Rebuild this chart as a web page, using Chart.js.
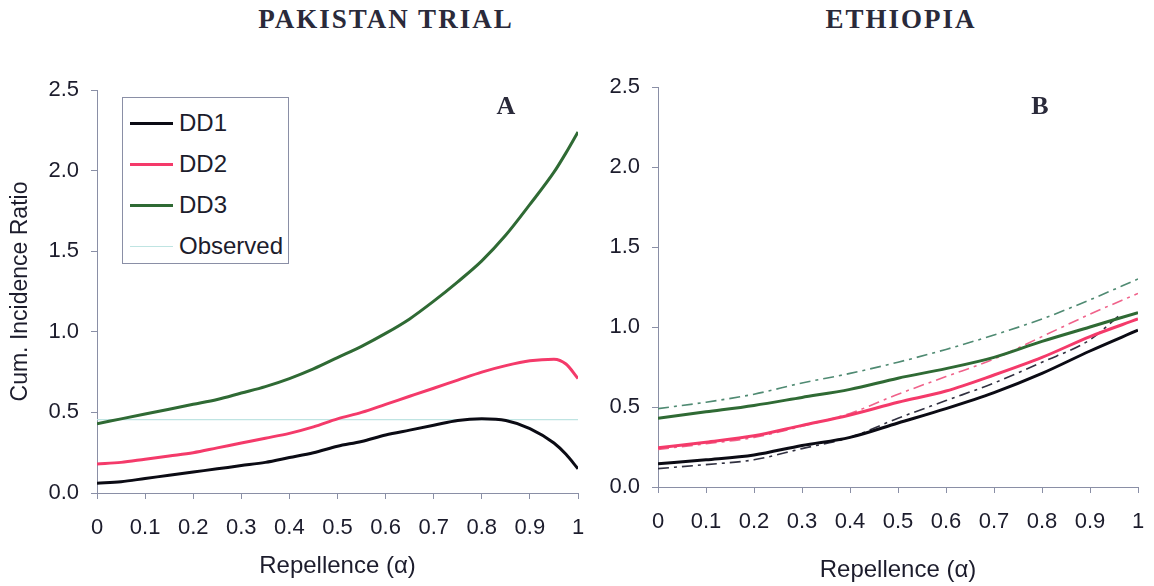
<!DOCTYPE html>
<html>
<head>
<meta charset="utf-8">
<script src="https://cdn.jsdelivr.net/npm/chart.js@4.4.1/dist/chart.umd.min.js"></script>
<style>
  body { margin: 0; background: #fff; width: 1154px; height: 586px; overflow: hidden; position: relative;
         font-family: "Liberation Sans", Arial, sans-serif; color: #1c1c2c; }
  .title { position: absolute; top: 4px; font-family: "Liberation Serif", "Times New Roman", serif; font-weight: bold;
           font-size: 27px; letter-spacing: 2px; color: #2a2a3a; transform: translateX(-50%); white-space: nowrap; }
  .panel { position: absolute; font-family: "Liberation Serif", "Times New Roman", serif; font-weight: bold;
           font-size: 26px; color: #2a2a3a; transform: translate(-50%, -50%); }
  canvas { position: absolute; top: 0; }
  #legend { position: absolute; left: 122px; top: 97px; width: 167px; height: 167px; border: 1px solid #8a8fa6;
            box-sizing: border-box; background: #fff; }
  #legend .item { position: absolute; left: 0; height: 30px; font-size: 24px; line-height: 30px; }
  #legend .swatch { position: absolute; left: 7px; top: 15px; width: 43px; }
  #legend .label { position: absolute; left: 56px; top: 0; white-space: nowrap; }
</style>
</head>
<body>
<div class="title" style="left:386px">PAKISTAN TRIAL</div>
<div class="title" style="left:901px">ETHIOPIA</div>
<canvas id="chart-a" width="600" height="586" style="left:0"></canvas>
<canvas id="chart-b" width="564" height="586" style="left:590px"></canvas>
<div class="panel" style="left:506px; top:106px">A</div>
<div class="panel" style="left:1040px; top:106px">B</div>
<div id="legend"></div>
<script>
// Pakistan trial (panel A)
const pakAlpha = [0, 0.05, 0.1, 0.15, 0.2, 0.25, 0.3, 0.35, 0.4, 0.45, 0.5, 0.55, 0.6, 0.65, 0.7, 0.75, 0.8, 0.85, 0.9, 0.95, 0.975, 1];
const pakDD1 = [0.06, 0.07, 0.09, 0.11, 0.13, 0.15, 0.17, 0.19, 0.22, 0.25, 0.29, 0.32, 0.36, 0.39, 0.42, 0.45, 0.46, 0.45, 0.40, 0.31, 0.24, 0.15];
const pakDD2 = [0.18, 0.19, 0.21, 0.23, 0.25, 0.28, 0.31, 0.34, 0.37, 0.41, 0.46, 0.50, 0.55, 0.60, 0.65, 0.70, 0.75, 0.79, 0.82, 0.83, 0.80, 0.71];
const pakDD3 = [0.43, 0.46, 0.49, 0.52, 0.55, 0.58, 0.62, 0.66, 0.71, 0.77, 0.84, 0.91, 0.99, 1.08, 1.19, 1.31, 1.44, 1.60, 1.79, 1.99, 2.11, 2.24];
const pakObserved = 0.455;

// Ethiopia (panel B)
const ethAlpha = [0, 0.1, 0.2, 0.3, 0.4, 0.5, 0.6, 0.7, 0.8, 0.9, 1];
const ethDD1 = [0.145, 0.17, 0.20, 0.26, 0.31, 0.40, 0.49, 0.59, 0.71, 0.85, 0.98];
const ethDD2 = [0.245, 0.28, 0.32, 0.385, 0.45, 0.53, 0.60, 0.70, 0.81, 0.94, 1.05];
const ethDD3 = [0.43, 0.47, 0.51, 0.56, 0.61, 0.68, 0.74, 0.81, 0.91, 1.00, 1.09];
const ethDD1AltAlpha = [0, 0.1, 0.2, 0.3, 0.4, 0.5, 0.6, 0.7, 0.8, 0.9, 0.96];
const ethDD1Alt = [0.115, 0.14, 0.17, 0.24, 0.31, 0.43, 0.54, 0.65, 0.78, 0.92, 1.07];
const ethDD2Alt = [0.235, 0.27, 0.31, 0.38, 0.46, 0.58, 0.69, 0.80, 0.94, 1.08, 1.21];
const ethDD3Alt = [0.49, 0.53, 0.58, 0.65, 0.71, 0.78, 0.86, 0.95, 1.05, 1.17, 1.30];

const seriesNames = ["DD1", "DD2", "DD3", "Observed"];
const colors = { DD1: "#0b0b14", DD2: "#f43a6a", DD3: "#2f6a34", Observed: "#bfe4e2" };
const altColors = { DD1: "#303040", DD2: "#f0628a", DD3: "#4f8a72" };
const axisColor = "#8a8fa6";
const textColor = "#1c1c2c";
const dashDot = [11, 5, 3, 5];

function pts(xs, ys) {
  return ys.map((y, i) => ({ x: xs[i], y }));
}

function line(label, data, color, width, dash) {
  return {
    label, data, borderColor: color, borderWidth: width, borderDash: dash || [],
    pointRadius: 0, fill: false, cubicInterpolationMode: "monotone",
  };
}

function makeOptions(yWidth, xHeight, pad, showYTitle, xTitlePad) {
  return {
    responsive: false,
    animation: false,
    layout: { padding: pad },
    plugins: { legend: { display: false }, tooltip: { enabled: false } },
    scales: {
      x: {
        type: "linear", min: 0, max: 1,
        afterFit: (s) => { s.height = xHeight; s.paddingLeft = 0; s.paddingRight = 0; },
        grid: { drawOnChartArea: false, color: axisColor, tickLength: 6 },
        border: { color: axisColor, width: 1 },
        ticks: {
          stepSize: 0.1, padding: 16, color: textColor, maxRotation: 0,
          font: { family: "Liberation Sans", size: 22 },
          callback: (v) => (Math.abs(v) < 1e-9 ? "0" : Math.abs(v - 1) < 1e-9 ? "1" : v.toFixed(1)),
        },
        title: {
          display: true, text: "Repellence (α)", color: textColor,
          font: { family: "Liberation Sans", size: 24 }, padding: { top: 0, bottom: xTitlePad },
        },
      },
      y: {
        min: 0, max: 2.5,
        afterFit: (s) => { s.width = yWidth; },
        grid: { drawOnChartArea: false, color: axisColor, tickLength: 6 },
        border: { color: axisColor, width: 1 },
        ticks: {
          stepSize: 0.5, padding: 12, color: textColor,
          font: { family: "Liberation Sans", size: 22 },
          callback: (v) => v.toFixed(1),
        },
        title: {
          display: showYTitle, text: "Cum. Incidence Ratio", color: textColor,
          font: { family: "Liberation Sans", size: 23 }, padding: { top: 7, bottom: 0 },
        },
      },
    },
  };
}

new Chart(document.getElementById("chart-a"), {
  type: "line",
  data: {
    datasets: [
      line("DD1", pts(pakAlpha, pakDD1), colors.DD1, 3),
      line("DD2", pts(pakAlpha, pakDD2), colors.DD2, 3),
      line("DD3", pts(pakAlpha, pakDD3), colors.DD3, 3),
      { ...line("Observed", [{ x: 0, y: pakObserved }, { x: 1, y: pakObserved }], colors.Observed, 1.2), order: 5 },
    ],
  },
  options: makeOptions(97, 93, { top: 90, right: 22, left: 0, bottom: 0 }, true, 5),
});

new Chart(document.getElementById("chart-b"), {
  type: "line",
  data: {
    datasets: [
      line("DD1", pts(ethAlpha, ethDD1), colors.DD1, 3),
      line("DD2", pts(ethAlpha, ethDD2), colors.DD2, 3),
      line("DD3", pts(ethAlpha, ethDD3), colors.DD3, 3),
      line("DD1 alt", pts(ethDD1AltAlpha, ethDD1Alt), altColors.DD1, 1.6, dashDot),
      line("DD2 alt", pts(ethAlpha, ethDD2Alt), altColors.DD2, 1.6, dashDot),
      line("DD3 alt", pts(ethAlpha, ethDD3Alt), altColors.DD3, 1.6, dashDot),
    ],
  },
  options: makeOptions(68, 99, { top: 87, right: 16, left: 0, bottom: 0 }, false, 1),
});

// legend box inside panel A
const legend = document.getElementById("legend");
legend.innerHTML = seriesNames
  .map((name, i) => {
    const h = name === "Observed" ? 1 : 3;
    return `<div class="item" style="top:${10 + i * 41}px"><div class="swatch" style="height:${h}px;margin-top:-${Math.floor(h / 2)}px;background:${colors[name]}"></div><div class="label">${name}</div></div>`;
  })
  .join("");
</script>
</body>
</html>
